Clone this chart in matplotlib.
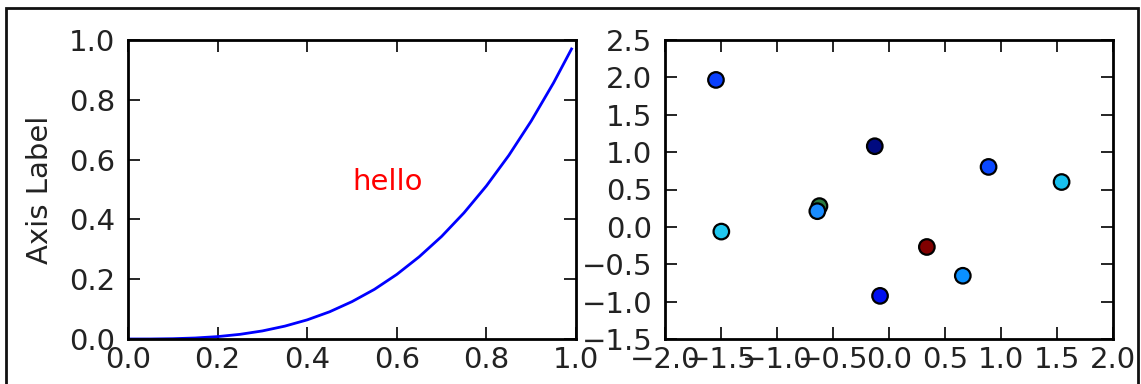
import matplotlib
matplotlib.use('Agg')
import matplotlib.pyplot as plt
import matplotlib.patches as patches

# left panel: curve
curve_x = [0.0, 0.05, 0.10, 0.15, 0.20, 0.25, 0.30, 0.35, 0.40, 0.45, 0.50,
           0.55, 0.60, 0.65, 0.70, 0.75, 0.80, 0.85, 0.90, 0.95, 0.99]
curve_y = [0.0, 0.0001, 0.001, 0.0034, 0.008, 0.0156, 0.027, 0.043, 0.064, 0.091, 0.125,
           0.166, 0.216, 0.275, 0.343, 0.422, 0.512, 0.614, 0.729, 0.857, 0.970]

# right panel: scatter points and their colours
pts_x = [-1.545, -1.497, -0.621, -0.640, -0.127, -0.080, 0.338, 0.659, 0.889, 1.541]
pts_y = [1.966, -0.063, 0.278, 0.210, 1.079, -0.923, -0.269, -0.654, 0.802, 0.600]
pts_c = ['#0a40ff', '#20c8f0', '#2a7a40', '#1a8cff', '#000a80',
         '#0010f0', '#800000', '#0a90ff', '#0a48ff', '#18c0ee']

left_xticks = [0.0, 0.2, 0.4, 0.6, 0.8, 1.0]
left_yticks = [0.0, 0.2, 0.4, 0.6, 0.8, 1.0]
right_xticks = [-2.0, -1.5, -1.0, -0.5, 0.0, 0.5, 1.0, 1.5, 2.0]
right_yticks = [-1.5, -1.0, -0.5, 0.0, 0.5, 1.0, 1.5, 2.0, 2.5]

fs = 21

fig = plt.figure(figsize=(11.41, 3.84), dpi=100, facecolor='white')
ax1 = fig.add_axes([128/1141, 45/384, 448/1141, 299/384])
ax2 = fig.add_axes([665/1141, 45/384, 448/1141, 299/384])

ax1.plot(curve_x, curve_y, color='#0000ff', lw=2.0)
ax1.text(0.5, 0.5, 'hello', color='red', fontsize=fs)
ax1.set_xlim(0, 1)
ax1.set_ylim(0, 1)
ax1.set_xticks(left_xticks)
ax1.set_yticks(left_yticks)
ax1.set_ylabel('Axis Label', fontsize=fs, color='#222222')
ax1.yaxis.set_label_coords(-0.165, 0.5)

ax2.scatter(pts_x, pts_y, c=pts_c, s=125, edgecolors='black', linewidths=1.6, zorder=3)
ax2.set_xlim(-2, 2)
ax2.set_ylim(-1.5, 2.5)
ax2.set_xticks(right_xticks)
ax2.set_yticks(right_yticks)

for ax in (ax1, ax2):
    for sp in ax.spines.values():
        sp.set_linewidth(2.0)
    ax.tick_params(direction='in', length=8.5, width=1.2, top=True, right=True,
                   labelsize=fs, labelcolor='#222222')
    ax.tick_params(axis='x', pad=5)
    ax.tick_params(axis='y', pad=9)

# frame round the whole picture
fig.patches.append(patches.Rectangle((6/1141, -0.1), 1132/1141, 1.1 - 8/384,
                                     transform=fig.transFigure, fill=False,
                                     edgecolor='#111111', lw=2.0, clip_on=False))

fig.savefig('out.png', dpi=100, facecolor='white')
